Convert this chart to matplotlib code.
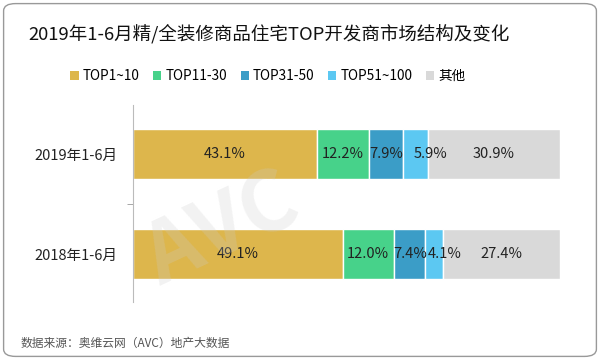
import numpy as np
import matplotlib.pyplot as plt
from matplotlib.patches import FancyBboxPatch, Patch

plt.rcParams['font.family'] = ['Noto Sans CJK SC', 'DejaVu Sans']

periods = ['2018年1-6月', '2019年1-6月']
groups = ['TOP1~10', 'TOP11-30', 'TOP31-50', 'TOP51~100', '其他']
shares = {
    'TOP1~10': [49.1, 43.1],
    'TOP11-30': [12.0, 12.2],
    'TOP31-50': [7.4, 7.9],
    'TOP51~100': [4.1, 5.9],
    '其他': [27.4, 30.9],
}
colors = ['#DDB64C', '#47D28A', '#3B9DC7', '#5CC8F2', '#D9D9D9']

fig = plt.figure(figsize=(6, 3.6), dpi=100)
ax = fig.add_axes([133 / 600, 1 - 302 / 360, 427 / 600, 197 / 360])

y = np.arange(len(periods))
left = np.zeros(len(periods))
for g, c in zip(groups, colors):
    vals = np.array(shares[g])
    ax.barh(y, vals, left=left, height=0.5, color=c, edgecolor='white', linewidth=1)
    for yi, v, l in zip(y, vals, left):
        # the narrowest segment's label is pushed to its right edge, as in the source
        xl = l + v + 0.5 if g == 'TOP51~100' else l + v / 2
        ax.text(xl, yi, f'{v:.1f}%', ha='center', va='center', fontsize=10.5, color='#222222')
    left += vals

ax.set_xlim(0, 100)
ax.set_ylim(-0.48, 1.49)
ax.set_yticks(y)
ax.set_yticklabels(periods, fontsize=10.5, color='#222222')
ax.tick_params(axis='y', length=0, pad=11)
ax.set_yticks([0.5], minor=True)
ax.tick_params(axis='y', which='minor', length=4, color='#999999')
ax.set_xticks([])
for s in ['top', 'right', 'bottom']:
    ax.spines[s].set_visible(False)
ax.spines['left'].set_color('#bbbbbb')

# watermark
fig.text(0.37, 0.36, 'AVC', fontsize=60, fontweight='bold', color='#cccccc', alpha=0.25,
         rotation=25, ha='center', va='center', fontstyle='italic')

fig.text(28 / 600, 1 - 34 / 360, '2019年1-6月精/全装修商品住宅TOP开发商市场结构及变化',
         ha='left', va='center', fontsize=13.3, color='#111111')

handles = [Patch(facecolor=c, edgecolor='none') for c in colors]
fig.legend(handles, groups, loc='center', bbox_to_anchor=(268 / 600, 1 - 76 / 360), ncol=5,
           frameon=False, fontsize=9.8, handlelength=0.6, handleheight=0.6,
           handletextpad=0.3, columnspacing=1.0)

fig.text(21 / 600, 1 - 343 / 360, '数据来源：奥维云网（AVC）地产大数据',
         ha='left', va='center', fontsize=8.5, color='#555555')

border = FancyBboxPatch((0.006, 0.01), 0.988, 0.98, boxstyle='round,pad=0,rounding_size=0.02',
                        transform=fig.transFigure, fill=False, edgecolor='#999999', linewidth=1)
fig.patches.append(border)

fig.savefig('out.png', dpi=100, facecolor='white')
